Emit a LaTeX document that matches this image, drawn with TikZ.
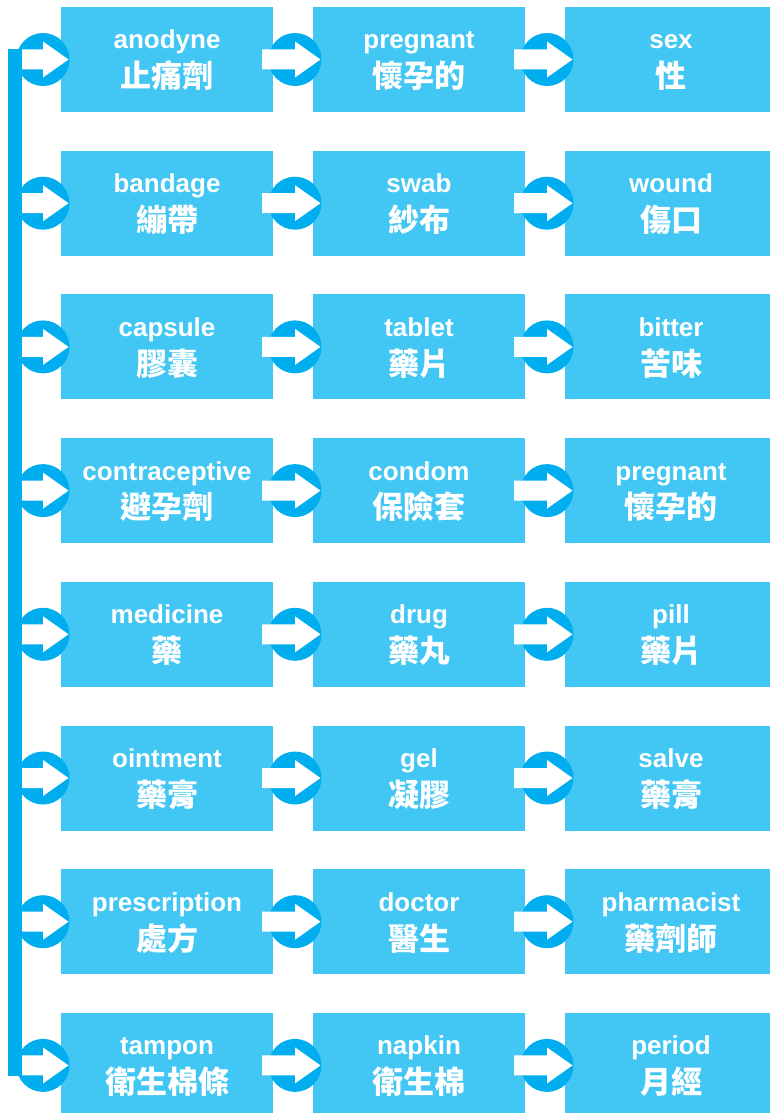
\documentclass[tikz,border=0pt]{standalone}
\usepackage{fontspec}
\usetikzlibrary{calc}
\newfontfamily\enfont{Liberation Sans}
\newfontfamily\cjkfont{Noto Sans CJK TC}
\definecolor{boxblue}{HTML}{42C6F3}
\definecolor{circblue}{HTML}{00AEEF}
\begin{document}
\begin{tikzpicture}[x=1pt,y=-1pt,
  box/.style={fill=boxblue, minimum width=212pt, minimum height=105pt, inner sep=0pt, outer sep=0pt, anchor=north west},
  entext/.style={text=white, font=\enfont\bfseries\fontsize{26}{26}\selectfont, anchor=base, inner sep=0pt},
  zhtext/.style={text=white, font=\cjkfont\bfseries\fontsize{31}{31}\selectfont, anchor=base, inner sep=0pt},
  circ/.style={fill=circblue},
  arr/.style={fill=white}]
\useasboundingbox (0,0) rectangle (769,1113);
\foreach \r/\ea/\za/\eb/\zb/\ec/\zc in {
  0/anodyne/止痛劑/pregnant/懷孕的/sex/性,
  1/bandage/繃帶/swab/紗布/wound/傷口,
  2/capsule/膠囊/tablet/藥片/bitter/苦味,
  3/contraceptive/避孕劑/condom/保險套/pregnant/懷孕的,
  4/medicine/藥/drug/藥丸/pill/藥片,
  5/ointment/藥膏/gel/凝膠/salve/藥膏,
  6/prescription/處方/doctor/醫生/pharmacist/藥劑師,
  7/tampon/衛生棉條/napkin/衛生棉/period/月經}{
  \pgfmathsetmacro\tp{7+143.7*\r}
  \node[box] (b\r a) at (61,\tp) {};
  \node[box] (b\r b) at (313,\tp) {};
  \node[box] (b\r c) at (565,\tp) {};
}
% left bar
\fill[circ] ($(b0a.west)+(-53,-10)$) rectangle ($(b7a.west)+(-39,11)$);
\foreach \r in {0,...,7}{
  \foreach \c/\s in {a/21, b/33, c/33}{
    \coordinate (k\r\c) at ($(b\r\c.west)+(-18,0)$);
    \fill[circ] (k\r\c) circle (26.5pt);
    \fill[arr] ($(k\r\c)+(-\s,-10)$) -- ($(k\r\c)+(0,-10)$) -- ($(k\r\c)+(0,-18)$)
      -- ($(k\r\c)+(25.5,0)$) -- ($(k\r\c)+(0,18)$) -- ($(k\r\c)+(0,10)$)
      -- ($(k\r\c)+(-\s,10)$) -- cycle;
  }
}
\foreach \r/\ea/\za/\eb/\zb/\ec/\zc in {
  0/anodyne/止痛劑/pregnant/懷孕的/sex/性,
  1/bandage/繃帶/swab/紗布/wound/傷口,
  2/capsule/膠囊/tablet/藥片/bitter/苦味,
  3/contraceptive/避孕劑/condom/保險套/pregnant/懷孕的,
  4/medicine/藥/drug/藥丸/pill/藥片,
  5/ointment/藥膏/gel/凝膠/salve/藥膏,
  6/prescription/處方/doctor/醫生/pharmacist/藥劑師,
  7/tampon/衛生棉條/napkin/衛生棉/period/月經}{
  \node[entext] (e\r a) at ($(b\r a.center)+(0,-10.5)$) {\ea};
  \node[zhtext] (z\r a) at ($(b\r a.center)+(0,28.3)$) {\za};
  \node[entext] (e\r b) at ($(b\r b.center)+(0,-10.5)$) {\eb};
  \node[zhtext] (z\r b) at ($(b\r b.center)+(0,28.3)$) {\zb};
  \node[entext] (e\r c) at ($(b\r c.center)+(0,-10.5)$) {\ec};
  \node[zhtext] (z\r c) at ($(b\r c.center)+(0,28.3)$) {\zc};
}
\end{tikzpicture}
\end{document}
